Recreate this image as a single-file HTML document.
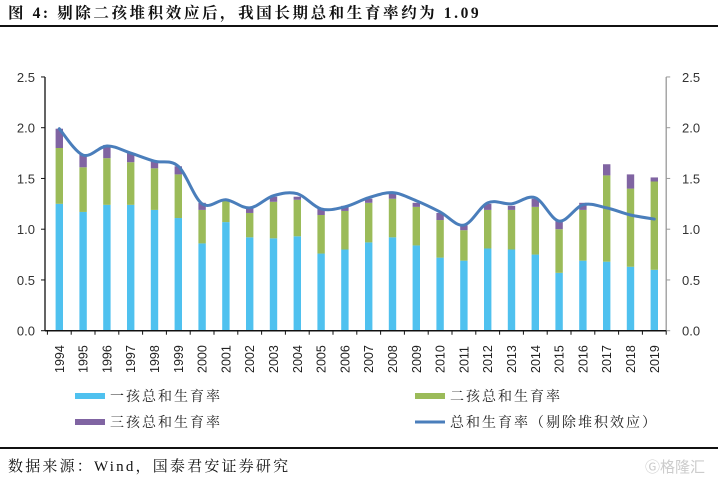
<!DOCTYPE html>
<html><head><meta charset="utf-8"><style>
body{margin:0;background:#fff;width:718px;height:480px;overflow:hidden;position:relative;font-family:"Liberation Serif","Noto Serif CJK SC",serif}
.t{position:absolute;white-space:nowrap}
</style></head><body>
<div class="t" style="left:8px;top:1px;font-size:15.5px;letter-spacing:2.6px;font-weight:bold;color:#111">图 4: 剔除二孩堆积效应后，我国长期总和生育率约为 1.09</div>
<div style="position:absolute;left:0;top:25px;width:718px;height:2px;background:#111"></div>
<svg id="c" width="718" height="480" style="position:absolute;left:0;top:0"></svg>
<div style="position:absolute;left:0;top:447px;width:718px;height:2px;background:#111"></div>
<div class="t" style="left:8px;top:455px;font-size:15px;letter-spacing:2.2px;color:#111">数据来源：Wind，国泰君安证券研究</div>
<div class="t" style="left:645px;top:456px;font-size:15px;color:#ccc;font-family:'Liberation Sans','Noto Sans CJK SC',sans-serif">Ⓖ格隆汇</div>
<script>
const years=["1994","1995","1996","1997","1998","1999","2000","2001","2002","2003","2004","2005","2006","2007","2008","2009","2010","2011","2012","2013","2014","2015","2016","2017","2018","2019"];
const firstChild=[1.25,1.17,1.24,1.24,1.19,1.11,0.86,1.07,0.92,0.91,0.93,0.76,0.80,0.87,0.92,0.84,0.72,0.69,0.81,0.80,0.75,0.57,0.69,0.68,0.63,0.60];
const secondChild=[0.55,0.44,0.46,0.42,0.41,0.43,0.33,0.21,0.24,0.36,0.36,0.38,0.38,0.39,0.38,0.38,0.37,0.30,0.38,0.39,0.47,0.43,0.50,0.85,0.77,0.87];
const thirdChild=[0.19,0.13,0.13,0.09,0.07,0.08,0.07,0.01,0.05,0.05,0.03,0.06,0.05,0.04,0.05,0.04,0.07,0.05,0.06,0.04,0.08,0.09,0.07,0.11,0.14,0.04];
const adjustedTFR=[1.99,1.73,1.82,1.75,1.67,1.62,1.25,1.29,1.21,1.33,1.35,1.20,1.22,1.31,1.36,1.28,1.17,1.04,1.26,1.25,1.31,1.08,1.24,1.21,1.14,1.10];
const yTicks=["0.0","0.5","1.0","1.5","2.0","2.5"];
const svg=document.getElementById('c');const NS='http://www.w3.org/2000/svg';
function mk(t,a,p){const e=document.createElementNS(NS,t);for(const k in a)e.setAttribute(k,a[k]);(p||svg).appendChild(e);return e;}
const X0=47.4,BW=23.8,Y0=330.7,SC=101.5;
const x=i=>X0+(i+0.5)*BW, y=v=>Y0-v*SC;
const XR=X0+years.length*BW;
let a=mk('line',{x1:45,y1:y(2.5),x2:45,y2:Y0,stroke:'#111','stroke-width':1.3});

a=mk('line',{x1:XR,y1:y(2.5),x2:XR,y2:Y0,stroke:'#999','stroke-width':1.3});

yTicks.forEach(t=>{const v=+t;
 mk('line',{x1:41,y1:y(v),x2:45,y2:y(v),stroke:'#111'});
 mk('line',{x1:XR,y1:y(v),x2:XR+4,y2:y(v),stroke:'#999'});
 let l=mk('text',{x:35,y:y(v)+5,'text-anchor':'end','font-size':13,fill:'#333','font-family':'Liberation Sans, sans-serif'});l.textContent=t;
 
 let r=mk('text',{x:682,y:y(v)+5,'font-size':13,fill:'#333','font-family':'Liberation Sans, sans-serif'});r.textContent=t;
 
});
years.forEach((yr,i)=>{
 const segs=[[0,firstChild[i],'#4fc1ef','bar-first-child'],[firstChild[i],secondChild[i],'#9bbb59','bar-second-child'],[firstChild[i]+secondChild[i],thirdChild[i],'#8064a2','bar-third-child']];
 segs.forEach(s=>{const r=mk('rect',{x:x(i)-3.7,y:y(s[0]+s[1]),width:7.4,height:s[1]*SC,fill:s[2]});
  });
 const l=mk('text',{transform:`translate(${x(i)+4.5},373) rotate(-90)`,'font-size':12.5,fill:'#222','font-family':'Liberation Sans, sans-serif'});l.textContent=yr;
 
});
for(let k=0;k<=years.length;k++)mk('line',{x1:X0+k*BW,y1:Y0,x2:X0+k*BW,y2:Y0+4,stroke:'#111'});
a=mk('line',{x1:45,y1:Y0,x2:XR,y2:Y0,stroke:'#111','stroke-width':1.5});

const P=adjustedTFR.map((v,i)=>[x(i),y(v)]);
let d=`M${P[0][0]},${P[0][1]}`;
for(let i=0;i<P.length-1;i++){const p0=P[i-1]||P[i],p1=P[i],p2=P[i+1],p3=P[i+2]||p2;
 d+=` C${p1[0]+(p2[0]-p0[0])/6},${p1[1]+(p2[1]-p0[1])/6} ${p2[0]-(p3[0]-p1[0])/6},${p2[1]-(p3[1]-p1[1])/6} ${p2[0]},${p2[1]}`;}
const ln=mk('path',{d:d,fill:'none',stroke:'#4a7ebb','stroke-width':3,'stroke-linecap':'round'});

const leg=[[75,396,'#4fc1ef','一孩总和生育率','rect'],[415,396,'#9bbb59','二孩总和生育率','rect'],[75,422,'#8064a2','三孩总和生育率','rect'],[415,422,'#4a7ebb','总和生育率（剔除堆积效应）','line']];
leg.forEach(g=>{const G=mk('g',{});
 if(g[4]=='rect')mk('rect',{x:g[0],y:g[1]-3,width:30,height:6,fill:g[2]},G);
 else mk('line',{x1:g[0],y1:g[1],x2:g[0]+30,y2:g[1],stroke:g[2],'stroke-width':3},G);
 const t=mk('text',{x:g[0]+35,y:g[1]+5,'font-size':14,'letter-spacing':2,fill:'#222','font-family':'Liberation Serif, Noto Serif CJK SC, serif'},G);t.textContent=g[3];});
</script>
</body></html>
